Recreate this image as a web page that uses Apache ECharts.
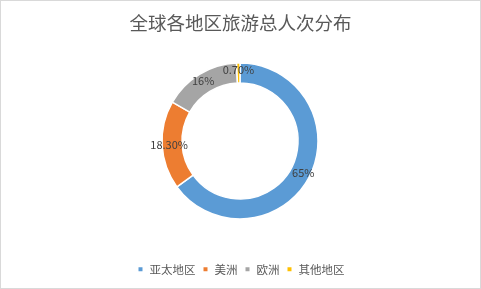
<!DOCTYPE html>
<html><head><meta charset="utf-8">
<script src="https://cdn.jsdelivr.net/npm/echarts@6/dist/echarts.min.js"></script>
<style>html,body{margin:0;padding:0;background:#fff}#c{width:479px;height:287px;border:1px solid #d9d9d9}</style>
</head><body><div id="c"></div>
<script>
var categories = ['亚太地区', '美洲', '欧洲', '其他地区'];
var values = [65, 18.3, 16, 0.7];
var labels = ['65%', '18.30%', '16%', '0.70%'];
var colors = ['#5b9bd5', '#ed7d31', '#a5a5a5', '#ffc000'];

var chart = echarts.init(document.getElementById('c'));
chart.setOption({
  animation: false,
  title: { text: '全球各地区旅游总人次分布', left: 'center', top: 8,
    textStyle: { fontSize: 18.5, fontWeight: 'normal', color: '#595959', fontFamily: 'Noto Sans CJK SC' } },
  legend: { bottom: 8, left: 'center', itemWidth: 6, itemHeight: 6, itemGap: 6, icon: 'rect',
    textStyle: { fontSize: 11.5, color: '#595959', fontFamily: 'Noto Sans CJK SC', padding: [0, 0, 0, 1] }, data: categories },
  color: colors,
  series: [{
    type: 'pie', center: [239, 140], radius: [58, 78], startAngle: 90, clockwise: true,
    itemStyle: { borderColor: '#fff', borderWidth: 1.5 },
    label: { show: true, position: 'inside', fontSize: 11, color: '#404040',
      fontFamily: 'Noto Sans CJK SC',
      formatter: function (p) { return labels[p.dataIndex]; } },
    labelLine: { show: false },
    data: categories.map(function (c, i) { return { name: c, value: values[i] }; })
  }]
});
</script></body></html>
